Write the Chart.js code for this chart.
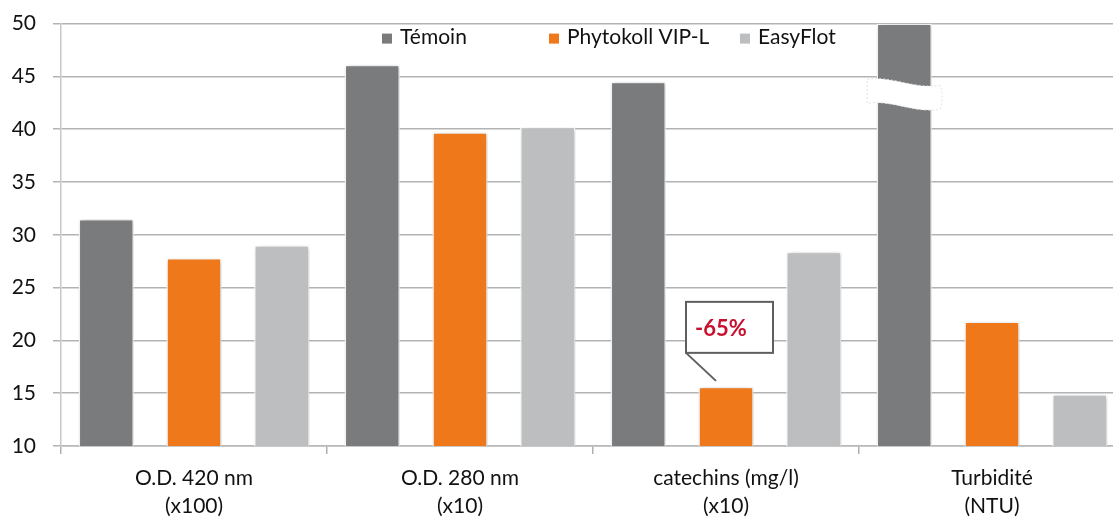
<!DOCTYPE html>
<html>
<head>
<meta charset="utf-8">
<script src="https://cdn.jsdelivr.net/npm/chart.js@4"></script>
<style>
  html, body { margin: 0; padding: 0; background: #fff; overflow: hidden; }
  #wrap { width: 1130px; height: 523px; margin-top: -6px; position: relative; }
</style>
</head>
<body>
<div id="wrap"><canvas id="myChart"></canvas></div>
<script>
// données
const categories = [['O.D. 420 nm', '(x100)'], ['O.D. 280 nm', '(x10)'], ['catechins (mg/l)', '(x10)'], ['Turbidité', '(NTU)']];
const seriesNames = ['Témoin', 'Phytokoll VIP-L', 'EasyFlot'];
const temoin = [31.5, 46.1, 44.5, 50];     // turbidité: barre coupée (axe interrompu)
const phytokoll = [27.8, 39.7, 15.6, 21.8];
const easyflot = [29.0, 40.2, 28.4, 14.9];
const yMin = 10, yMax = 50, yStep = 5;
const calloutText = '-65%';
const calloutIndex = 2;   // catechins, Phytokoll
const breakIndex = 3;     // turbidité, Témoin
const breakValue = 43.3;

const colors = ['#7a7b7d', '#ee781a', '#bdbebf'];
const font = 'Lato';

const ctx = document.getElementById('myChart');

// ombre légère sous les barres
const shadowPlugin = {
  id: 'shadow',
  beforeDatasetsDraw(chart) {
    const c = chart.ctx;
    c.save();
    c.shadowColor = 'rgba(0,0,0,0.28)';
    c.shadowBlur = 5;
    c.shadowOffsetX = 1;
    c.shadowOffsetY = 1;
  },
  afterDatasetsDraw(chart) {
    chart.ctx.restore();
  }
};

// légende dessinée dans la zone du graphique
const legendX = [382, 549, 740];
const legendPlugin = {
  id: 'myLegend',
  afterDraw(chart) {
    const c = chart.ctx;
    const top = chart.chartArea.top;
    c.save();
    c.font = '21px ' + font;
    c.textBaseline = 'middle';
    c.fillStyle = '#111';
    chart.data.datasets.forEach((ds, i) => {
      c.fillStyle = ds.backgroundColor;
      c.fillRect(legendX[i], top + 10, 10, 10);
      c.fillStyle = '#111';
      c.fillText(ds.label, legendX[i] + 18, top + 14);
    });
    c.restore();
  }
};

// interruption de la barre + bulle "-65%"
const annotPlugin = {
  id: 'annot',
  afterDraw(chart) {
    const c = chart.ctx;
    const y = chart.scales.y;

    // coupure
    const bar = chart.getDatasetMeta(0).data[breakIndex];
    const yc = y.getPixelForValue(breakValue);
    const x0 = bar.x - 37, x1 = bar.x + 36;
    const t0 = yc - 15, t1 = yc - 9, h = 24;
    c.save();
    c.beginPath();
    c.moveTo(x0, t0);
    c.bezierCurveTo(x0 + 25, t0 - 4, x0 + 45, t1 + 4, x1, t1);
    c.quadraticCurveTo(x1 + 4, t1 + h / 2, x1, t1 + h);
    c.bezierCurveTo(x0 + 45, t1 + h + 4, x0 + 25, t0 + h - 4, x0, t0 + h);
    c.closePath();
    c.fillStyle = '#fff';
    c.fill();
    c.setLineDash([2, 2]);
    c.strokeStyle = '#e2e2e2';
    c.lineWidth = 1;
    c.stroke();
    c.restore();

    // bulle
    const ob = chart.getDatasetMeta(1).data[calloutIndex];
    const bx = ob.x - 40, by = ob.y - 85, bw = 87, bh = 51;
    c.save();
    c.strokeStyle = '#5f5f5f';
    c.lineWidth = 2;
    c.beginPath();
    c.moveTo(bx, by + bh);
    c.lineTo(ob.x - 10, ob.y - 6);
    c.stroke();
    c.fillStyle = '#fff';
    c.fillRect(bx, by, bw, bh);
    c.strokeRect(bx, by, bw, bh);
    c.fillStyle = '#c8102e';
    c.font = 'bold 22px ' + font;
    c.textBaseline = 'middle';
    c.fillText(calloutText, bx + 9, by + bh / 2 + 2);
    c.restore();
  }
};

new Chart(ctx, {
  type: 'bar',
  data: {
    labels: categories,
    datasets: [
      { label: seriesNames[0], data: temoin, backgroundColor: colors[0] },
      { label: seriesNames[1], data: phytokoll, backgroundColor: colors[1] },
      { label: seriesNames[2], data: easyflot, backgroundColor: colors[2] }
    ]
  },
  options: {
    responsive: true,
    maintainAspectRatio: false,
    animation: false,
    datasets: {
      bar: {
        categoryPercentage: 0.99,
        barPercentage: 0.63,
        borderColor: '#ffffff',
        borderWidth: 1.5,
        borderSkipped: 'bottom'
      }
    },
    layout: { padding: { top: 17, right: 5, left: 0, bottom: 0 } },
    plugins: {
      legend: { display: false },
      tooltip: { enabled: false }
    },
    scales: {
      x: {
        grid: { offset: true, drawOnChartArea: false, tickLength: 8, color: '#b0b0b0', lineWidth: 1.5 },
        border: { color: '#b8b8b8', width: 1.5 },
        ticks: { color: '#111', padding: 10, maxRotation: 0, font: { family: font, size: 21, lineHeight: 1.33 } },
        afterFit(axis) { axis.height = 71; }
      },
      y: {
        min: yMin,
        max: yMax,
        ticks: { stepSize: yStep, color: '#111', padding: 17, font: { family: font, size: 21 } },
        grid: { color: '#b3b3b3', lineWidth: 1.5, tickLength: 8 },
        border: { color: '#c8c8c8', width: 1.5 },
        afterFit(axis) { axis.width = 61; }
      }
    }
  },
  plugins: [shadowPlugin, legendPlugin, annotPlugin]
});
</script>
</body>
</html>
